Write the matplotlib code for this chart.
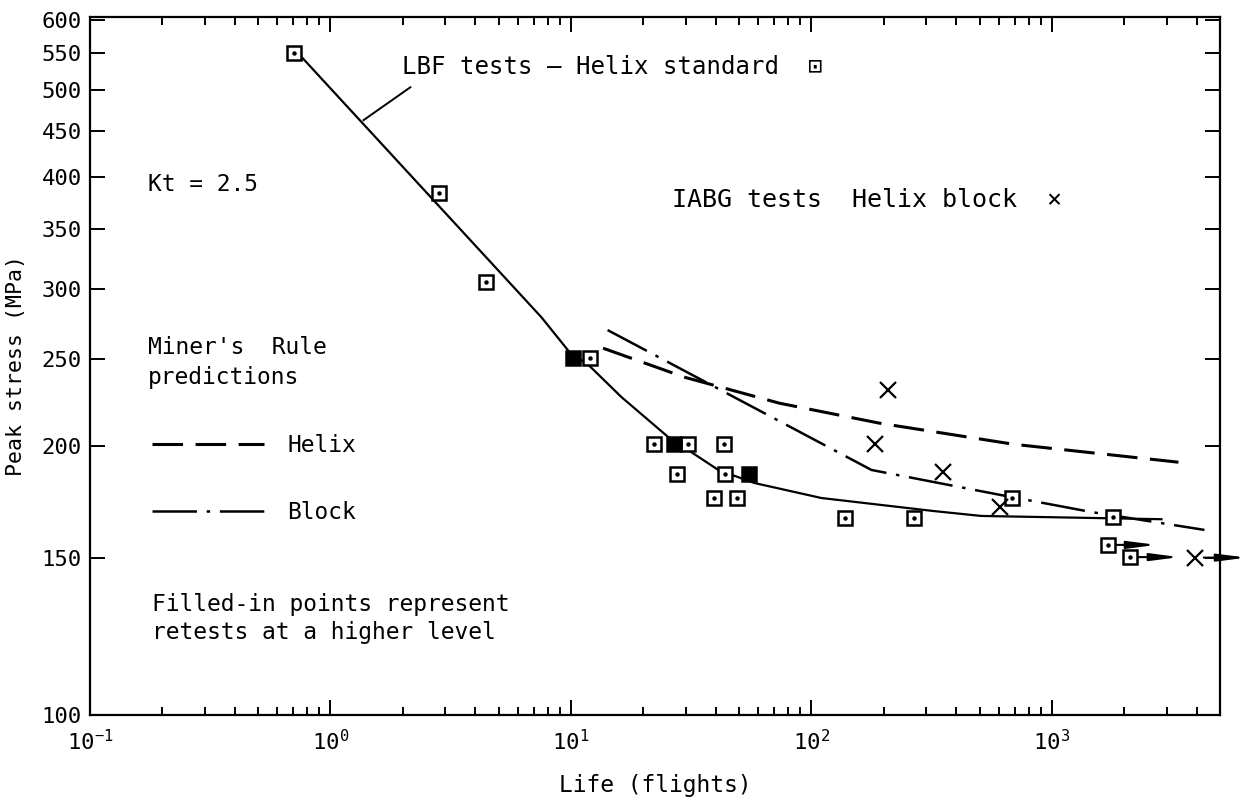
import numpy as np
import matplotlib
matplotlib.use("Agg")
import matplotlib.pyplot as plt
from matplotlib.ticker import FixedLocator, FuncFormatter, LogLocator, NullFormatter, NullLocator

plt.rcParams['font.family'] = ['DejaVu Sans Mono', 'DejaVu Sans']
plt.rcParams['mathtext.fontset'] = 'custom'
plt.rcParams['mathtext.rm'] = 'DejaVu Sans Mono'
plt.rcParams['lines.scale_dashes'] = False

# LBF tests - helix standard (open squares)
lbf_life = [0.708, 2.84, 4.45, 12.05, 22.2, 30.8, 43.1, 27.7, 43.5, 39.5, 48.8,
            138, 266, 685, 1802, 1703, 2120]
lbf_stress = [550, 384, 305, 251, 201, 201, 201, 186, 186, 175, 175,
              166, 166, 175, 166.5, 155, 150.2]

# filled-in points (retests at a higher level)
retest_life = [10.2, 26.9, 55.2]
retest_stress = [251, 201, 186]

# IABG tests - helix block (crosses)
iabg_life = [209, 183, 354, 611, 3950]
iabg_stress = [231, 201, 187, 171, 150]

# run-outs: start and end of the arrows
runout_life = [1703, 2120, 3950]
runout_stress = [155, 150.2, 150]
runout_end = [2720, 3388, 6440]

# LBF mean curve
lbf_curve_life = [0.758, 7.54, 9.86, 11.83, 16.2, 25.4, 31.7, 41.0, 57.9,
                  110, 324, 509, 2853]
lbf_curve_stress = [544.9, 278.6, 254.7, 246.4, 226.9, 204.6, 196.8, 188.0,
                    181.8, 174.9, 169.1, 167.0, 165.6]

# Miner's rule predictions
helix_life = [13.6, 29.6, 73.6, 191.8, 691, 3357]
helix_stress = [257.3, 238.8, 223.3, 212.1, 200.9, 191.8]
block_life = [14.2, 177.7, 616.6, 1459, 4306]
block_stress = [269.6, 188.0, 176.2, 168.7, 161.1]

# leader line to the LBF label
pointer_life = [1.372, 2.15]
pointer_stress = [463, 504]

yticks = [100, 150, 200, 250, 300, 350, 400, 450, 500, 550, 600]

fig = plt.figure(figsize=(12.48, 8.09), dpi=100)
ax = fig.add_axes([0.0721, 0.1162, 0.9055, 0.8628])
ax.set_xscale('log')
ax.set_yscale('log')
ax.set_xlim(0.1, 5000)
ax.set_ylim(100, 604)

ax.plot(lbf_curve_life, lbf_curve_stress, color='k', lw=1.6)
ax.plot(pointer_life, pointer_stress, color='k', lw=1.4)
hel, = ax.plot(helix_life, helix_stress, color='k', lw=2.2, dashes=(22, 9),
               label='Helix')
blk, = ax.plot(block_life, block_stress, color='k', lw=1.8, dashes=(32, 7, 2.5, 7),
               label='Block')

ax.plot(lbf_life, lbf_stress, ls='none', marker='s', ms=10.5, mfc='white',
        mec='k', mew=1.8)
ax.plot(lbf_life, lbf_stress, ls='none', marker='o', ms=2.2, color='k')
ax.plot(retest_life, retest_stress, ls='none', marker='s', ms=10.5, mfc='k',
        mec='k', mew=1.8)
ax.plot(iabg_life, iabg_stress, ls='none', marker='x', ms=12, mec='k', mew=1.6)

for x0, y0, x1 in zip(runout_life, runout_stress, runout_end):
    ax.annotate('', xy=(x1, y0), xytext=(x0, y0), annotation_clip=False,
                arrowprops=dict(arrowstyle='-|>,head_length=1.7,head_width=0.22',
                                color='k', lw=1.5, shrinkA=6, shrinkB=0))

fs = 16.5
ax.text(0.0513, 0.7593, 'Kt = 2.5', transform=ax.transAxes, fontsize=fs, va='center')
ax.text(0.0513, 0.5258, "Miner's  Rule", transform=ax.transAxes, fontsize=fs, va='center')
ax.text(0.0513, 0.4842, 'predictions', transform=ax.transAxes, fontsize=fs, va='center')
ax.text(0.0549, 0.1576, 'Filled-in points represent', transform=ax.transAxes,
        fontsize=fs, va='center')
ax.text(0.0549, 0.1175, 'retests at a higher level', transform=ax.transAxes,
        fontsize=fs, va='center')
ax.text(0.2761, 0.9284, 'LBF tests \u2014 Helix standard  \u22a1', transform=ax.transAxes,
        fontsize=17.3, va='center')
ax.text(0.5150, 0.7378, 'IABG tests  Helix block  \u00d7', transform=ax.transAxes,
        fontsize=18, va='center')

ax.legend(handles=[hel, blk], loc='upper left', bbox_to_anchor=(0.0549, 0.4025),
          frameon=False, fontsize=fs, handlelength=4.9, handletextpad=1.0,
          labelspacing=1.9, borderpad=0, borderaxespad=0)

ax.xaxis.set_major_locator(LogLocator(base=10, numticks=10))
ax.xaxis.set_minor_locator(LogLocator(base=10, subs=np.arange(2, 10), numticks=10))
ax.xaxis.set_minor_formatter(NullFormatter())
ax.xaxis.set_major_formatter(FuncFormatter(lambda v, p: r'$10^{%d}$' % round(np.log10(v))))
ax.yaxis.set_major_locator(FixedLocator(yticks))
ax.yaxis.set_major_formatter(FuncFormatter(lambda v, p: '%d' % v))
ax.yaxis.set_minor_locator(NullLocator())

ax.tick_params(which='both', direction='in', top=True, right=True, width=1.4,
               labelsize=16)
ax.tick_params(which='major', length=11)
ax.tick_params(which='minor', length=6)
ax.tick_params(axis='x', pad=10)
ax.tick_params(axis='y', pad=6)
for s in ax.spines.values():
    s.set_linewidth(1.6)

ax.set_xlabel('Life (flights)', fontsize=16.5, labelpad=14)
ax.set_ylabel('Peak stress (MPa)', fontsize=15.5)
ax.yaxis.set_label_coords(-0.057, 0.5)

fig.savefig('out.png', dpi=100)
